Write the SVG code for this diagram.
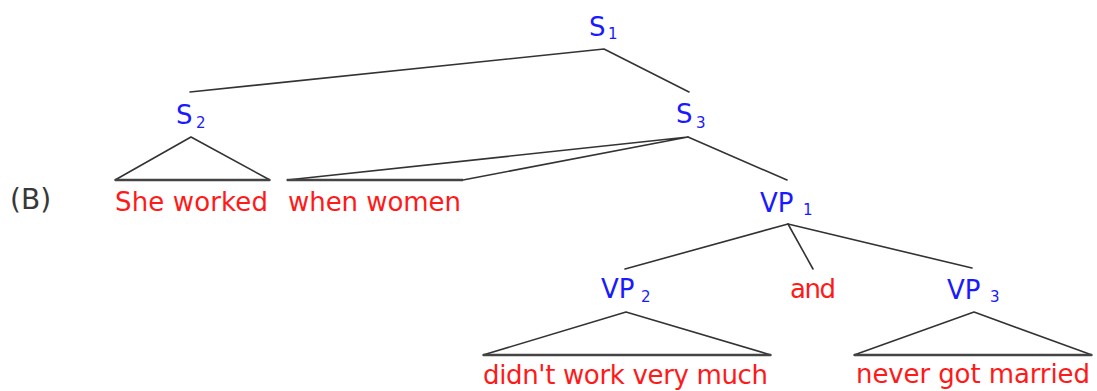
<svg xmlns="http://www.w3.org/2000/svg" width="1097" height="391" viewBox="0 0 1097 391">
<style>
.lbl{font-family:"DejaVu Sans","Verdana",sans-serif;font-size:26px;fill:#1a1aff}
.sub{font-family:"DejaVu Sans","Verdana",sans-serif;font-size:15px;fill:#1a1aff}
.leaf{font-family:"DejaVu Sans","Verdana",sans-serif;font-size:26px;fill:#ff1a1a}
.edge{stroke:#333;stroke-width:1.6;fill:none;stroke-linecap:round;stroke-linejoin:round}
.base{stroke:#444;stroke-width:2.6;fill:none}
</style>
<rect width="1097" height="391" fill="#fff"/>
<text x="10" y="209" font-family="DejaVu Sans, sans-serif" font-size="28" fill="#383838">(B)</text>
<g id="connectors">
<polyline class="edge" points="190,92 604,49 689,92"/>
<polyline class="edge" points="115,180 191,137 270,180"/>
<line class="base" x1="115" y1="180" x2="270" y2="180"/>
<polyline class="edge" points="287,180 688,137 463,180"/>
<line class="base" x1="287" y1="180" x2="463" y2="180"/>
<line class="edge" x1="688" y1="137" x2="787" y2="180"/>
<polyline class="edge" points="625,269 788,224 972,268"/>
<line class="edge" x1="788" y1="224" x2="813" y2="269"/>
<polyline class="edge" points="483,355 626,312 771,355"/>
<line class="base" x1="483" y1="355" x2="771" y2="355"/>
<polyline class="edge" points="854,355 974,312 1092,355"/>
<line class="base" x1="854" y1="355" x2="1092" y2="355"/>
</g>
<g id="S1"><text class="lbl" x="589" y="36">S</text><text class="sub" x="608" y="39">1</text></g>
<g id="S2"><text class="lbl" x="176" y="124">S</text><text class="sub" x="196" y="128">2</text></g>
<g id="S3"><text class="lbl" x="676" y="123">S</text><text class="sub" x="696" y="128">3</text></g>
<g id="VP1"><text class="lbl" x="760" y="212">VP</text><text class="sub" x="803" y="215">1</text></g>
<g id="VP2"><text class="lbl" x="601" y="298">VP</text><text class="sub" x="641" y="302">2</text></g>
<g id="VP3"><text class="lbl" x="947" y="299">VP</text><text class="sub" x="990" y="302">3</text></g>
<g id="leaf-she-worked"><text class="leaf" x="115" y="211" textLength="153" lengthAdjust="spacing">She worked</text></g>
<g id="leaf-when-women"><text class="leaf" x="288" y="211" textLength="173" lengthAdjust="spacing">when women</text></g>
<g id="leaf-and"><text class="leaf" x="790" y="298" textLength="46" lengthAdjust="spacing">and</text></g>
<g id="leaf-didnt"><text class="leaf" x="483" y="384" textLength="285" lengthAdjust="spacing">didn't work very much</text></g>
<g id="leaf-never"><text class="leaf" x="856" y="383" textLength="234" lengthAdjust="spacing">never got married</text></g>
</svg>
